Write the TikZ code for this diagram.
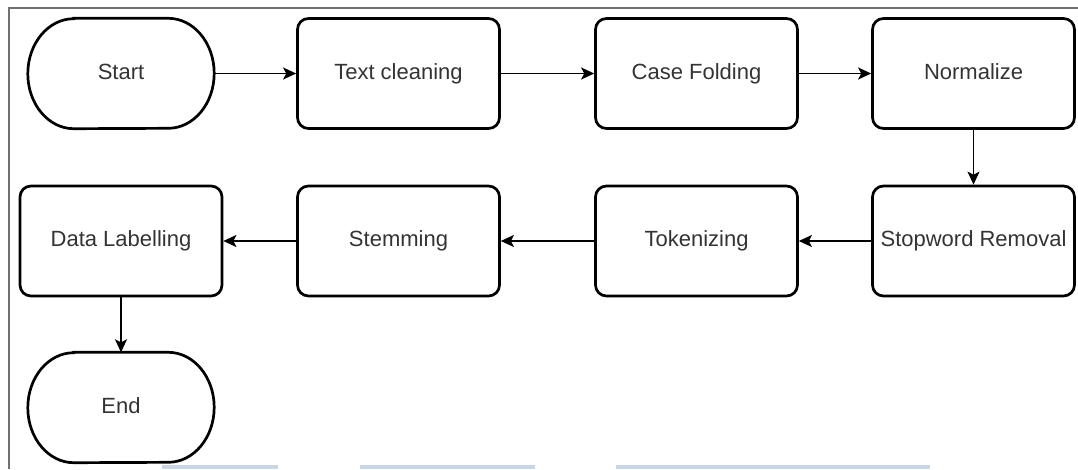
\documentclass[tikz,border=0pt]{standalone}
\usepackage{fontspec}
\setmainfont{Liberation Sans}
\usetikzlibrary{arrows.meta}
\definecolor{txt}{HTML}{333333}
\definecolor{framegray}{HTML}{707070}
\definecolor{barblue}{HTML}{C9D5E1}
\tikzset{
  stepbox/.style={draw=black, line width=2.7pt, rounded corners=11pt, minimum width=202pt, minimum height=110pt, inner sep=0pt, text height=16pt, text depth=4.5pt, font=\fontsize{22}{26}\selectfont, text=txt},
  termnode/.style={draw=none, minimum width=186pt, minimum height=110pt, inner sep=0pt, text height=16pt, text depth=4.5pt, font=\fontsize{22}{26}\selectfont, text=txt},
  termline/.style={draw=black, line width=2.7pt},
  flow/.style={line width=1.5pt, -{Stealth[length=13pt,width=12pt,inset=3pt]}}
}
\newcommand{\termshape}[1]{%
  \draw[termline] ([xshift=46pt]#1.north west) -- ([xshift=-46pt]#1.north east)
    arc[start angle=90,end angle=-90,x radius=46pt,y radius=55pt]
    -- ([xshift=46pt]#1.south west)
    arc[start angle=270,end angle=90,x radius=46pt,y radius=55pt] -- cycle;}
\begin{document}
\begin{tikzpicture}[x=1pt,y=-1pt]
\useasboundingbox (0,0) rectangle (1078,469);
% frame
\draw[framegray, line width=2pt] (8.5,469) -- (8.5,7.5) -- (1078,7.5);
% bottom bars
\fill[barblue] (162,465) rectangle (278,469);
\fill[barblue] (360,465) rectangle (535,469);
\fill[barblue] (616,465) rectangle (930,469);
% nodes
\node[termnode] (start) at (121,73.5) {Start};
\termshape{start}
\node[stepbox] (clean) at (398.5,73.5) {Text cleaning};
\node[stepbox] (fold) at (696.5,73.5) {Case Folding};
\node[stepbox] (norm) at (973.5,73.5) {Normalize};
\node[stepbox] (stop) at (973.5,241) {Stopword Removal};
\node[stepbox] (tok) at (696.5,241) {Tokenizing};
\node[stepbox] (stem) at (398.5,241) {Stemming};
\node[stepbox] (label) at (121,241) {Data Labelling};
\node[termnode] (end) at (121,407.5) {End};
\termshape{end}
% connectors
\draw[flow] (start.east) -- (clean.west);
\draw[flow] (clean) -- (fold);
\draw[flow] (fold) -- (norm);
\draw[flow] (norm) -- (stop);
\draw[flow] (stop) -- (tok);
\draw[flow] (tok) -- (stem);
\draw[flow] (stem) -- (label);
\draw[flow] (label.south) -- (end.north);
\end{tikzpicture}
\end{document}
